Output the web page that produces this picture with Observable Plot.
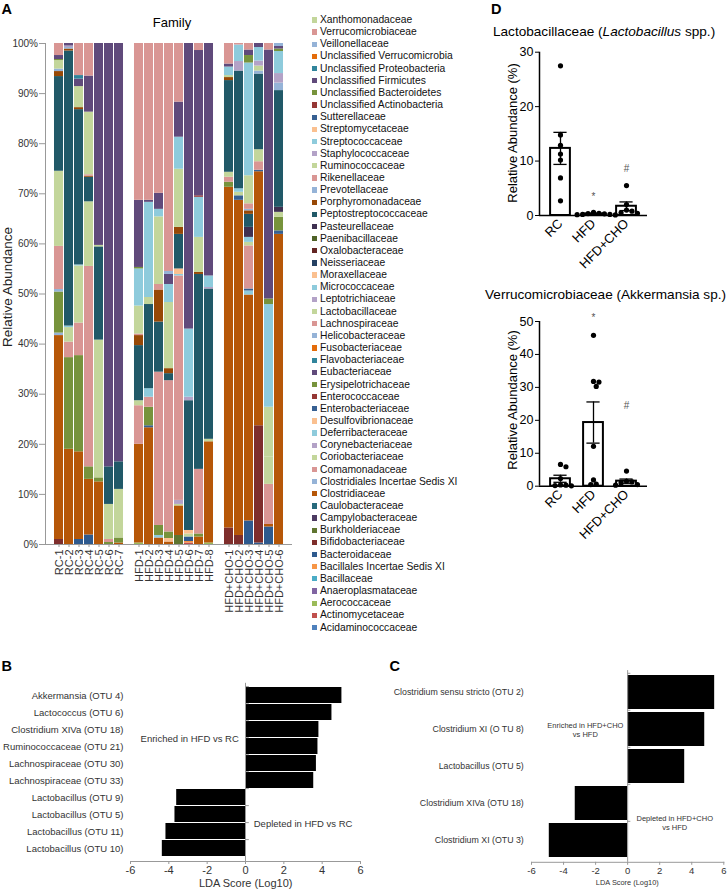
<!DOCTYPE html>
<html><head><meta charset="utf-8">
<script src="https://cdn.jsdelivr.net/npm/d3@7"></script>
<script src="https://cdn.jsdelivr.net/npm/@observablehq/plot@0.6"></script>
<style>
body{margin:0;background:#fff;}
#root{position:relative;width:727px;height:890px;overflow:hidden;font-family:"Liberation Sans",Arial,Helvetica,sans-serif;color:#000;background:#fff;}
#root svg{position:absolute;max-width:none;background:none;overflow:visible;}
</style></head>
<body><div id="root"></div>
<script>
// ---------------- DATA ----------------
// families, stacking order bottom -> top (legend lists them top -> bottom)
const families = ["Acidaminococcaceae","Actinomycetaceae","Aerococcaceae","Anaeroplasmataceae","Bacillaceae","Bacillales Incertae Sedis XI","Bacteroidaceae","Bifidobacteriaceae","Burkholderiaceae","Campylobacteraceae","Caulobacteraceae","Clostridiaceae","Clostridiales Incertae Sedis XI","Comamonadaceae","Coriobacteriaceae","Corynebacteriaceae","Deferribacteraceae","Desulfovibrionaceae","Enterobacteriaceae","Enterococcaceae","Erysipelotrichaceae","Eubacteriaceae","Flavobacteriaceae","Fusobacteriaceae","Helicobacteraceae","Lachnospiraceae","Lactobacillaceae","Leptotrichiaceae","Micrococcaceae","Moraxellaceae","Neisseriaceae","Oxalobacteraceae","Paenibacillaceae","Pasteurellaceae","Peptostreptococcaceae","Porphyromonadaceae","Prevotellaceae","Rikenellaceae","Ruminococcaceae","Staphylococcaceae","Streptococcaceae","Streptomycetaceae","Sutterellaceae","Unclassified Actinobacteria","Unclassified Bacteroidetes","Unclassified Firmicutes","Unclassified Proteobacteria","Unclassified Verrucomicrobia","Veillonellaceae","Verrucomicrobiaceae","Xanthomonadaceae"];

const rcSamples = ["RC-1","RC-2","RC-3","RC-4","RC-5","RC-6","RC-7"];
const hfdSamples = ["HFD-1","HFD-2","HFD-3","HFD-4","HFD-5","HFD-6","HFD-7","HFD-8"];
const choSamples = ["HFD+CHO-1","HFD+CHO-2","HFD+CHO-3","HFD+CHO-4","HFD+CHO-5","HFD+CHO-6"];

// relative abundance (%) per sample: [family, value]
const rcComposition = [
 [["Bifidobacteriaceae",1.0],["Clostridiaceae",40.7],["Clostridiales Incertae Sedis XI",0.5],["Erysipelotrichaceae",8.2],["Helicobacteraceae",0.5],["Lachnospiraceae",8.6],["Lactobacillaceae",15.0],["Peptostreptococcaceae",18.9],["Porphyromonadaceae",1.0],["Prevotellaceae",0.5],["Ruminococcaceae",1.7],["Unclassified Bacteroidetes",0.2],["Unclassified Firmicutes",0.8],["Verrucomicrobiaceae",2.4]],
 [["Clostridiaceae",19.0],["Erysipelotrichaceae",18.3],["Lachnospiraceae",3.1],["Lactobacillaceae",2.9],["Micrococcaceae",0.3],["Peptostreptococcaceae",54.9],["Porphyromonadaceae",0.4],["Prevotellaceae",0.3],["Staphylococcaceae",0.3],["Unclassified Firmicutes",0.5]],
 [["Bacteroidaceae",1.0],["Clostridiaceae",17.5],["Erysipelotrichaceae",19.2],["Lachnospiraceae",6.5],["Lactobacillaceae",11.4],["Micrococcaceae",0.2],["Peptostreptococcaceae",31.0],["Porphyromonadaceae",0.4],["Ruminococcaceae",4.2],["Unclassified Firmicutes",1.5],["Unclassified Proteobacteria",0.7],["Verrucomicrobiaceae",6.4]],
 [["Bacteroidaceae",1.9],["Clostridiaceae",11.1],["Erysipelotrichaceae",2.5],["Lachnospiraceae",40.0],["Lactobacillaceae",12.9],["Peptostreptococcaceae",4.9],["Porphyromonadaceae",0.2],["Rikenellaceae",0.3],["Ruminococcaceae",12.5],["Unclassified Firmicutes",7.2],["Verrucomicrobiaceae",6.5]],
 [["Clostridiaceae",12.5],["Erysipelotrichaceae",0.8],["Lactobacillaceae",27.5],["Peptostreptococcaceae",18.6],["Ruminococcaceae",0.3],["Unclassified Firmicutes",40.3]],
 [["Erysipelotrichaceae",0.4],["Lachnospiraceae",0.6],["Lactobacillaceae",7.0],["Peptostreptococcaceae",7.5],["Unclassified Firmicutes",84.5]],
 [["Clostridiaceae",0.3],["Erysipelotrichaceae",1.0],["Lactobacillaceae",9.7],["Peptostreptococcaceae",5.5],["Unclassified Firmicutes",83.5]]
];
const hfdComposition = [
 [["Aerococcaceae",0.3],["Clostridiaceae",19.7],["Lachnospiraceae",7.7],["Lactobacillaceae",1.0],["Peptostreptococcaceae",11.0],["Porphyromonadaceae",2.0],["Rikenellaceae",0.3],["Ruminococcaceae",5.6],["Streptococcaceae",7.4],["Unclassified Bacteroidetes",0.3],["Unclassified Firmicutes",13.4],["Verrucomicrobiaceae",31.3]],
 [["Clostridiaceae",23.3],["Enterobacteriaceae",0.4],["Erysipelotrichaceae",3.7],["Lachnospiraceae",2.0],["Micrococcaceae",1.7],["Peptostreptococcaceae",16.8],["Ruminococcaceae",1.4],["Streptococcaceae",19.0],["Unclassified Firmicutes",0.4],["Verrucomicrobiaceae",31.3]],
 [["Clostridiaceae",1.3],["Deferribacteraceae",0.5],["Erysipelotrichaceae",2.0],["Lachnospiraceae",30.6],["Peptostreptococcaceae",10.0],["Porphyromonadaceae",6.4],["Rikenellaceae",1.1],["Ruminococcaceae",13.5],["Streptococcaceae",1.5],["Unclassified Firmicutes",3.2],["Verrucomicrobiaceae",29.9]],
 [["Clostridiaceae",0.5],["Desulfovibrionaceae",0.7],["Erysipelotrichaceae",1.3],["Lachnospiraceae",30.2],["Peptostreptococcaceae",1.4],["Porphyromonadaceae",1.0],["Ruminococcaceae",13.2],["Streptococcaceae",3.6],["Unclassified Firmicutes",2.0],["Veillonellaceae",0.6],["Verrucomicrobiaceae",45.5]],
 [["Burkholderiaceae",1.8],["Clostridiaceae",5.9],["Coriobacteriaceae",0.3],["Corynebacteriaceae",0.8],["Lachnospiraceae",44.8],["Micrococcaceae",0.3],["Moraxellaceae",1.1],["Peptostreptococcaceae",6.9],["Porphyromonadaceae",1.4],["Ruminococcaceae",11.6],["Streptococcaceae",6.4],["Unclassified Firmicutes",7.0],["Verrucomicrobiaceae",11.7]],
 [["Actinomycetaceae",0.3],["Bacillales Incertae Sedis XI",0.3],["Bacteroidaceae",0.9],["Coriobacteriaceae",0.6],["Desulfovibrionaceae",0.7],["Peptostreptococcaceae",25.9],["Staphylococcaceae",0.7],["Streptococcaceae",13.6],["Unclassified Firmicutes",57.0]],
 [["Clostridiaceae",1.5],["Erysipelotrichaceae",0.6],["Lachnospiraceae",12.9],["Peptostreptococcaceae",38.9],["Porphyromonadaceae",0.4],["Ruminococcaceae",7.0],["Streptococcaceae",8.0],["Unclassified Actinobacteria",0.3],["Unclassified Firmicutes",29.0],["Verrucomicrobiaceae",1.4]],
 [["Aerococcaceae",0.3],["Clostridiaceae",20.2],["Lactobacillaceae",0.5],["Peptostreptococcaceae",30.0],["Staphylococcaceae",0.3],["Streptococcaceae",2.3],["Unclassified Firmicutes",46.4]]
];
const choComposition = [
 [["Bifidobacteriaceae",3.3],["Clostridiaceae",68.0],["Erysipelotrichaceae",1.0],["Lachnospiraceae",1.0],["Lactobacillaceae",1.0],["Peptostreptococcaceae",18.3],["Porphyromonadaceae",0.6],["Ruminococcaceae",0.4],["Streptococcaceae",1.7],["Unclassified Firmicutes",0.6],["Verrucomicrobiaceae",4.1]],
 [["Bifidobacteriaceae",1.8],["Clostridiaceae",66.9],["Enterobacteriaceae",0.9],["Lactobacillaceae",0.7],["Micrococcaceae",0.7],["Peptostreptococcaceae",23.5],["Staphylococcaceae",1.9],["Streptococcaceae",3.3],["Verrucomicrobiaceae",0.3]],
 [["Bacteroidaceae",4.7],["Clostridiaceae",45.1],["Deferribacteraceae",0.8],["Enterobacteriaceae",0.4],["Lachnospiraceae",8.6],["Lactobacillaceae",0.7],["Micrococcaceae",1.0],["Pasteurellaceae",2.0],["Peptostreptococcaceae",2.6],["Porphyromonadaceae",0.7],["Prevotellaceae",0.3],["Rikenellaceae",1.1],["Ruminococcaceae",5.6],["Streptococcaceae",22.5],["Unclassified Bacteroidetes",1.5],["Unclassified Firmicutes",1.1],["Verrucomicrobiaceae",1.3]],
 [["Bacteroidaceae",0.3],["Bifidobacteriaceae",23.4],["Clostridiaceae",50.7],["Enterobacteriaceae",0.3],["Lachnospiraceae",1.7],["Lactobacillaceae",2.4],["Peptostreptococcaceae",15.1],["Prevotellaceae",0.6],["Ruminococcaceae",1.0],["Staphylococcaceae",1.0],["Streptococcaceae",2.7],["Unclassified Firmicutes",0.8]],
 [["Bacteroidaceae",3.5],["Clostridiaceae",0.5],["Lachnospiraceae",8.0],["Lactobacillaceae",5.5],["Ruminococcaceae",9.9],["Streptococcaceae",20.5],["Unclassified Bacteroidetes",1.1],["Unclassified Firmicutes",49.7],["Verrucomicrobiaceae",1.3]],
 [["Clostridiaceae",61.9],["Enterobacteriaceae",0.7],["Erysipelotrichaceae",2.7],["Lactobacillaceae",1.0],["Pasteurellaceae",1.0],["Peptostreptococcaceae",23.3],["Prevotellaceae",1.5],["Staphylococcaceae",1.9],["Streptococcaceae",4.4],["Unclassified Bacteroidetes",0.5],["Unclassified Firmicutes",0.5],["Veillonellaceae",0.6]]
];

// Panel D
const groups = ["RC","HFD","HFD+CHO"];
const lactoRC = [27.5,14.8,12.9,11.3,10.2,6.9,2.7];
const lactoHFD = [0.6,0.4,0.35,0.3,0.2,0.2,0.15,0.1];
const lactoCHO = [5.5,2.0,1.0,0.8,0.5,0.4];
const akkRC = [6.6,5.9,2.3,0.4,0.3,0.2,0.1];
const akkHFD = [45.8,31.8,31.6,30.3,12.1,1.9,0.6,0.5];
const akkCHO = [4.6,1.5,1.3,1.0,0.5,0.3];
const lactoSig = [{g:"HFD",y:3.4,t:"*"},{g:"HFD+CHO",y:8.6,t:"#"}];
const akkSig = [{g:"HFD",y:51.0,t:"*"},{g:"HFD+CHO",y:24.5,t:"#"}];

// Panel B
const ldaHfdTaxa = ["Akkermansia (OTU 4)","Lactococcus (OTU 6)","Clostridium XIVa (OTU 18)","Ruminococcaceae (OTU 21)","Lachnospiraceae (OTU 30)","Lachnospiraceae (OTU 33)","Lactobacillus (OTU 9)","Lactobacillus (OTU 5)","Lactobacillus (OTU 11)","Lactobacillus (OTU 10)"];
const ldaHfdScores = [5.03,4.51,3.83,3.78,3.70,3.56,-3.59,-3.68,-4.15,-4.34];
const annB = [{taxon:"Clostridium XIVa (OTU 18)",x:-0.35,text:"Enriched in HFD vs RC",side:"end"},{taxon:"Lactobacillus (OTU 5)",x:0.43,text:"Depleted in HFD vs RC",side:"start"}];

// Panel C
const ldaChoTaxa = ["Clostridium sensu stricto (OTU 2)","Clostridium XI (O TU 8)","Lactobacillus (OTU 5)","Clostridium XIVa (OTU 18)","Clostridium XI (OTU 3)"];
const ldaChoScores = [5.43,4.81,3.56,-3.27,-4.89];
const annC = [{taxon:"Clostridium XI (O TU 8)",x:-2.64,text:"Enriched in HFD+CHO\nvs HFD",shift:0},{taxon:"Clostridium XIVa (OTU 18)",x:2.94,text:"Depleted in HFD+CHO\nvs HFD",shift:19}];

// ---------------- STYLE ----------------
const base  = ["#4F81BD","#C0504D","#9BBB59","#8064A2","#4BACC6","#F79646"];
const dark1 = ["#2E5A8E","#7E2E2C","#5F7530","#4D3B62","#276A7C","#B65708"];
const light = ["#95B3D7","#D99694","#C3D69B","#B3A2C7","#8ECBDC","#FAC090"];
const mid   = ["#376092","#953735","#77933C","#604A7B","#31859C","#E46C0A"];
const dark2 = ["#244062","#632523","#4F6228","#3F3151","#215968","#974806"];
const paletteSets = [base,dark1,light,mid,light,dark2,light,mid,light];
const colors = families.map((f,i)=>paletteSets[Math.floor(i/6)][i%6]);
const FONT = '"Liberation Sans", Arial, Helvetica, sans-serif';

// ---------------- HELPERS ----------------
const root = document.getElementById("root");
function put(svg, left, top){ svg.style.left = left+"px"; svg.style.top = top+"px"; root.appendChild(svg); }
function label(html, x, y, o={}){
  const d = document.createElement("div");
  d.innerHTML = html;
  d.style.cssText = `position:absolute;left:${x}px;top:${y}px;white-space:nowrap;line-height:1;font-size:${o.size||12}px;font-weight:${o.weight||"normal"};color:${o.color||"#000"};`;
  const ax = o.anchor==="end" ? "-100%" : o.anchor==="middle" ? "-50%" : "0";
  d.style.transform = `translate(${ax},-50%)` + (o.rotate ? ` rotate(${o.rotate}deg)` : "");
  root.appendChild(d);
  return d;
}

// ---------------- PANEL A ----------------
const allSamples = [...rcSamples, ...hfdSamples, ...choSamples];
const allComp = [...rcComposition, ...hfdComposition, ...choComposition];
const rowsA = [];
allSamples.forEach((s,i)=>allComp[i].forEach(([f,v])=>rowsA.push({sample:s,family:f,value:v})));
const xDomainA = [...rcSamples, " ", ...hfdSamples, "  ", ...choSamples];

const chartA = Plot.plot({
  width: 305, height: 600,
  marginLeft: 45, marginRight: 13, marginTop: 43, marginBottom: 56,
  x: {domain: xDomainA, range: [46, 291.4], paddingInner: 0.064, paddingOuter: 0, label: null},
  y: {domain: [0,100], label: null},
  color: {domain: families, range: colors},
  style: {fontFamily: FONT, fontSize: "10px", color: "#333", background: "none"},
  marks: [
    Plot.barY(rowsA, {x: "sample", y: "value", fill: "family", order: families}),
    Plot.ruleY([0], {stroke: "#999"}),
    Plot.frame({anchor: "left", stroke: "#999"}),
    Plot.axisY({ticks: d3.range(0,101,10), tickFormat: d=>d+"%", tickSize: 6, tickPadding: 1.5, fontSize: 10, stroke: "#999", label: null}),
    Plot.axisX({ticks: allSamples, tickRotate: -90, tickSize: 3, tickPadding: 2, fontSize: 11, stroke: "#999", label: null})
  ]
});
put(chartA, 0, 0);

label("A", 1.5, 8.5, {size: 14.5, weight: "bold"});
label("Family", 172, 22, {size: 13, anchor: "middle"});
label("Relative Abundance", 8, 287, {size: 13.5, anchor: "middle", rotate: -90, color: "#222"});

// legend (top -> bottom)
const legendFamilies = families.slice().reverse();
legendFamilies.forEach((f,i)=>{
  const y = 20 + i*12.15;
  const sw = document.createElement("div");
  sw.style.cssText = `position:absolute;left:311.5px;top:${y-2.7}px;width:5.3px;height:5.3px;background:${colors[families.indexOf(f)]};`;
  root.appendChild(sw);
  label(f, 320, y, {size: 10.3, color: "#111"});
});

// ---------------- PANEL D ----------------
function swarm(vals, ky, kx, r){
  const order = d3.range(vals.length).sort((a,b)=>vals[b]-vals[a]);
  const placed = [], out = new Array(vals.length), step = r*1.05;
  for (const j of order){
    const py = vals[j]*ky;
    for (let k=0;k<60;k++){
      const px = (k%2 ? 1 : -1)*Math.ceil(k/2)*step;
      if (placed.every(p=>(p.x-px)**2+(p.y-py)**2 >= (2*r)**2*0.92)){ placed.push({x:px,y:py}); out[j] = {v: vals[j], off: px/kx}; break; }
    }
  }
  return out;
}
function dPanel(groupVals, yMax, yTicks, sig, mTop, frameH){
  const kx = 33, ky = frameH/yMax, r = 2.6, height = 230;
  const summary = groupVals.map((vals,i)=>{ const m=d3.mean(vals), s=d3.deviation(vals)/Math.sqrt(vals.length); return {i, mean:m, lo:m-s, hi:m+s}; });
  const dots = [];
  groupVals.forEach((vals,i)=>swarm(vals, ky, kx, r).forEach(d=>dots.push({i, v:d.v, off:d.off})));
  const caps = summary.flatMap(d=>[{i:d.i,y:d.lo},{i:d.i,y:d.hi}]);
  return Plot.plot({
    width: 237, height, marginLeft: 49, marginRight: 80, marginTop: mTop, marginBottom: height-mTop-frameH,
    x: {domain: [-0.636, 2.636]}, y: {domain: [0, yMax]},
    style: {fontFamily: FONT, fontSize: "12.5px", color: "#000", background: "none"},
    marks: [
      Plot.rectY(summary, {x1: d=>d.i-0.3, x2: d=>d.i+0.3, y1: d=>0, y2: "mean", fill: "white", stroke: "black", strokeWidth: 2}),
      Plot.ruleX(summary, {x: "i", y1: "lo", y2: "hi", stroke: "black", strokeWidth: 1.3}),
      Plot.ruleY(caps, {y: "y", x1: d=>d.i-0.2, x2: d=>d.i+0.2, stroke: "black", strokeWidth: 1.3}),
      Plot.dot(dots, {x: d=>d.i+d.off, y: "v", r, fill: "black"}),
      Plot.text(sig, {x: d=>groups.indexOf(d.g), y: "y", text: "t", fill: "#555", fontSize: 10}),
      Plot.ruleY([0], {stroke: "black", strokeWidth: 1.5}),
      Plot.ruleX([-0.636], {stroke: "black", strokeWidth: 1.5}),
      Plot.axisY({ticks: yTicks, tickSize: 4, tickPadding: 2, fontSize: 12.5, label: null}),
      Plot.axisX({ticks: [0,1,2], tickFormat: i=>groups[i], tickRotate: -45, tickSize: 0, tickPadding: 6, fontSize: 13, label: null})
    ]
  });
}
put(dPanel([lactoRC, lactoHFD, lactoCHO], 30, [0,10,20,30], lactoSig, 11.7, 163.3), 490, 40);
put(dPanel([akkRC, akkHFD, akkCHO], 50, [0,10,20,30,40,50], akkSig, 11, 164.7), 490, 310);
label("D", 491, 9, {size: 14.5, weight: "bold"});
label("Lactobacillaceae (<i>Lactobacillus</i> spp.)", 493, 32, {size: 13.6});
label("Verrucomicrobiaceae (Akkermansia sp.)", 485, 295, {size: 13.6});
label("Relative Abundance (%)", 511.5, 133, {size: 13, anchor: "middle", rotate: -90});
label("Relative Abundance (%)", 511.5, 400, {size: 13, anchor: "middle", rotate: -90});

// ---------------- PANEL B ----------------
const rowsB = ldaHfdTaxa.map((t,i)=>({taxon:t, score:ldaHfdScores[i]}));
const chartB = Plot.plot({
  width: 380, height: 220, marginLeft: 130, marginRight: 20, marginTop: 12.8, marginBottom: 29,
  x: {domain: [-6,6]}, y: {domain: ldaHfdTaxa, padding: 0.05},
  style: {fontFamily: FONT, fontSize: "9.5px", color: "#333", background: "none"},
  marks: [
    Plot.barX(rowsB, {y: "taxon", x: "score", fill: "black"}),
    Plot.ruleY(ldaHfdTaxa, {y: d=>d, x1: d=>0, x2: d=>0.2, dy: -8.9, stroke: "#999"}),
    Plot.ruleX([0], {stroke: "#999"}),
    Plot.frame({anchor: "bottom", stroke: "#999"}),
    Plot.axisX({ticks: d3.range(-6,7,2), tickFormat: d=>String(d), tickSize: 3, tickPadding: 2, fontSize: 11, stroke: "#999", label: null}),
    Plot.axisY({tickSize: 0, tickPadding: 7, fontSize: 9.5, label: null}),
    Plot.text(annB.filter(d=>d.side==="end"), {y: "taxon", x: "x", text: "text", textAnchor: "end", dy: 9, fontSize: 9.5, fill: "#333"}),
    Plot.text(annB.filter(d=>d.side==="start"), {y: "taxon", x: "x", text: "text", textAnchor: "start", dy: 9, fontSize: 9.5, fill: "#333"})
  ]
});
put(chartB, 0, 670);
label("B", 1.5, 666, {size: 14.5, weight: "bold"});
label("LDA Score (Log10)", 245.7, 882.5, {size: 11, anchor: "middle", color: "#333"});

// ---------------- PANEL C ----------------
const rowsC = ldaChoTaxa.map((t,i)=>({taxon:t, score:ldaChoScores[i]}));
const chartC = Plot.plot({
  width: 347, height: 225, marginLeft: 151, marginRight: 3.7, marginTop: 5.1, marginBottom: 28.2,
  x: {domain: [-6,6]}, y: {domain: ldaChoTaxa, padding: 0.087},
  style: {fontFamily: FONT, fontSize: "8.8px", color: "#333", background: "none"},
  marks: [
    Plot.barX(rowsC, {y: "taxon", x: "score", fill: "black"}),
    Plot.ruleY(ldaChoTaxa, {y: d=>d, x1: d=>0, x2: d=>0.2, dy: -19.2, stroke: "#999"}),
    Plot.ruleX([0], {stroke: "#999"}),
    Plot.frame({anchor: "bottom", stroke: "#999"}),
    Plot.axisX({ticks: d3.range(-6,7,2), tickFormat: d=>String(d), tickSize: 3, tickPadding: 2, fontSize: 9.5, stroke: "#999", label: null}),
    Plot.axisY({tickSize: 0, tickPadding: 7.7, fontSize: 8.8, label: null}),
    Plot.text(annC.filter(d=>d.shift===0), {y: "taxon", x: "x", text: "text", textAnchor: "middle", lineHeight: 1.2, fontSize: 7.5, fill: "#333"}),
    Plot.text(annC.filter(d=>d.shift!==0), {y: "taxon", x: "x", text: "text", textAnchor: "middle", lineHeight: 1.2, dy: 19, fontSize: 7.5, fill: "#333"})
  ]
});
put(chartC, 380, 665);
label("C", 389.5, 665.5, {size: 14.5, weight: "bold"});
label("LDA Score (Log10)", 627.3, 882.5, {size: 7.4, anchor: "middle", color: "#333"});
</script></body></html>
